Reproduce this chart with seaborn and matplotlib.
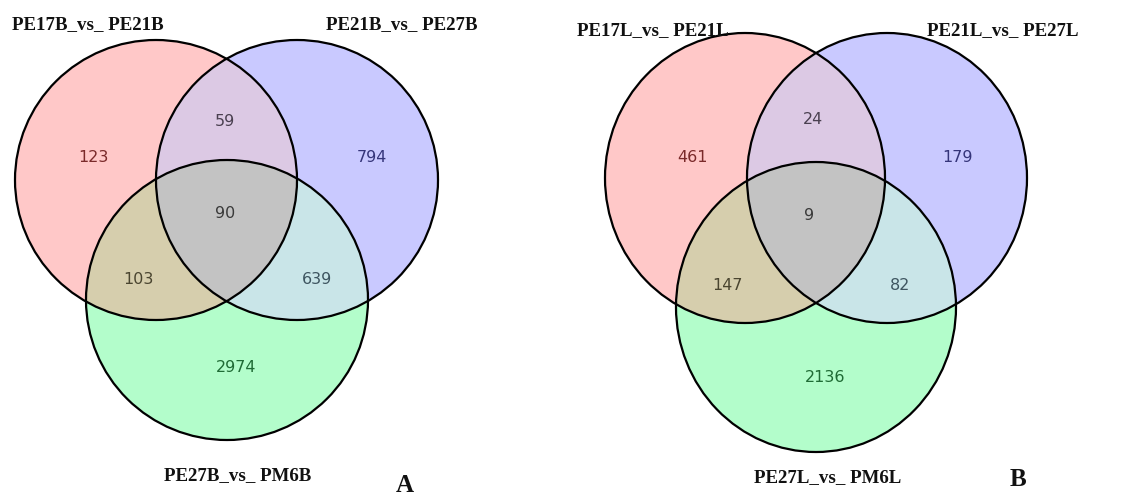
import matplotlib.pyplot as plt
import numpy as np
import seaborn as sns
from matplotlib.patches import Ellipse, Polygon

# region order: only A, only B, only C, A&B, A&C, B&C, A&B&C
regions = ['100', '010', '001', '110', '101', '011', '111']
counts_a = [123, 794, 2974, 59, 103, 639, 90]
counts_b = [461, 179, 2136, 24, 147, 82, 9]
sets_a = ['PE17B_vs_ PE21B', 'PE21B_vs_ PE27B', 'PE27B_vs_ PM6B']
sets_b = ['PE17L_vs_ PE21L', 'PE21L_vs_ PE27L', 'PE27L_vs_ PM6L']
panel_tags = ['A', 'B']

region_colors = {'100': '#ffc8c8', '010': '#c9c9ff', '001': '#b3fdcb',
                 '110': '#dcc9e4', '101': '#d6cead', '011': '#c9e5e8',
                 '111': '#c3c3c3'}
text_colors = {'100': '#7a2a2a', '010': '#35357a', '001': '#1f6b35',
               '110': '#4a4050', '101': '#4a4530', '011': '#3e5560',
               '111': '#3a3a3a'}

sns.set_theme(style='white')
plt.rcParams['font.family'] = ['DejaVu Sans']

fig = plt.figure(figsize=(11.29, 4.96), dpi=100)
ax = fig.add_axes([0, 0, 1, 1])
ax.set_xlim(0, 1129)
ax.set_ylim(496, 0)
ax.axis('off')


def boundary(e, n=3000):
    cx, cy, rx, ry = e
    t = np.linspace(0, 2 * np.pi, n, endpoint=False)
    return np.column_stack([cx + rx * np.cos(t), cy + ry * np.sin(t)])


def inside(p, e):
    cx, cy, rx, ry = e
    return ((p[:, 0] - cx) / rx) ** 2 + ((p[:, 1] - cy) / ry) ** 2 <= 1 + 1e-9


def intersect(shapes):
    pts = []
    for i, s in enumerate(shapes):
        b = boundary(s)
        keep = np.ones(len(b), bool)
        for j, o in enumerate(shapes):
            if j != i:
                keep &= inside(b, o)
        pts.append(b[keep])
    pts = np.vstack(pts)
    c = pts.mean(axis=0)
    ang = np.arctan2(pts[:, 1] - c[1], pts[:, 0] - c[0])
    return pts[np.argsort(ang)]


def draw_venn(shapes, counts, names, name_pos, count_pos, tag, tag_pos):
    for k, s in zip(['100', '010', '001'], shapes):
        ax.add_patch(Ellipse((s[0], s[1]), 2 * s[2], 2 * s[3],
                             fc=region_colors[k], ec='none', zorder=1))
    combos = {'110': [0, 1], '101': [0, 2], '011': [1, 2], '111': [0, 1, 2]}
    for k, idx in combos.items():
        poly = intersect([shapes[i] for i in idx])
        ax.add_patch(Polygon(poly, closed=True, fc=region_colors[k],
                             ec=region_colors[k], lw=0.5, zorder=2))
    for s in shapes:
        ax.add_patch(Ellipse((s[0], s[1]), 2 * s[2], 2 * s[3],
                             fc='none', ec='black', lw=1.6, zorder=3))
    for k, v, p in zip(regions, counts, count_pos):
        ax.text(p[0], p[1], str(v), ha='center', va='center', fontsize=11.5,
                color=text_colors[k], zorder=4)
    for n, p in zip(names, name_pos):
        ax.text(p[0], p[1], n, ha='center', va='center', fontsize=13.6,
                fontweight='bold', family='Liberation Serif', color='#111111')
    ax.text(tag_pos[0], tag_pos[1], tag, ha='center', va='center',
            fontsize=18, fontweight='bold', family='Liberation Serif',
            color='#111111')


# layout (pixel coordinates): cx, cy, rx, ry
shapes_a = [(156, 180, 141, 140), (297, 180, 141, 140), (227, 300, 141, 140)]
shapes_b = [(745, 178, 140, 145), (887, 178, 140, 145), (816, 307, 140, 145)]

draw_venn(shapes_a, counts_a, sets_a,
          [(88, 25), (402, 25), (238, 476)],
          [(93, 158), (372, 158), (236, 367), (225, 122), (138, 280),
           (317, 280), (225, 214)],
          panel_tags[0], (405, 485))
draw_venn(shapes_b, counts_b, sets_b,
          [(653, 31), (1003, 31), (828, 478)],
          [(692, 158), (958, 158), (825, 377), (813, 120), (728, 285),
           (900, 285), (809, 216)],
          panel_tags[1], (1018, 479))

plt.savefig('out.png', dpi=100)
